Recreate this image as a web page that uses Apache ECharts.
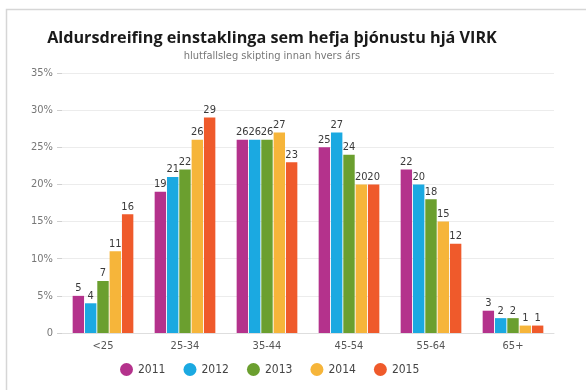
<!DOCTYPE html>
<html>
<head>
<meta charset="utf-8">
<script src="https://cdn.jsdelivr.net/npm/echarts@6/dist/echarts.min.js"></script>
<style>
  html, body { margin: 0; padding: 0; background: #fff; }
  #chart { width: 586px; height: 390px; }
</style>
</head>
<body>
<div id="chart"></div>
<script>
// Age groups of people starting services at VIRK, share per year (%)
const ageGroups = ['<25', '25-34', '35-44', '45-54', '55-64', '65+'];
const years = ['2011', '2012', '2013', '2014', '2015'];
const share2011 = [5, 19, 26, 25, 22, 3];
const share2012 = [4, 21, 26, 27, 20, 2];
const share2013 = [7, 22, 26, 24, 18, 2];
const share2014 = [11, 26, 27, 20, 15, 1];
const share2015 = [16, 29, 23, 20, 12, 1];
const yTicks = [0, 5, 10, 15, 20, 25, 30, 35];

const yearValues = [share2011, share2012, share2013, share2014, share2015];
const colors = ['#b4328c', '#1ba9e1', '#6b9f2f', '#f6b53a', '#ef5a2b'];
const labelFont = '"DejaVu Sans Condensed", "Liberation Sans Narrow", sans-serif';

const chart = echarts.init(document.getElementById('chart'));
chart.setOption({
  animation: false,
  backgroundColor: '#fff',
  color: colors,
  graphic: [{
    type: 'rect',
    shape: { x: 6.5, y: 9.5, width: 590, height: 400 },
    style: { fill: 'none', stroke: '#d6d6d6', lineWidth: 1.5 },
    silent: true
  }],
  title: {
    text: 'Aldursdreifing einstaklinga sem hefja þjónustu hjá VIRK',
    subtext: 'hlutfallsleg skipting innan hvers árs',
    left: 267, top: 25, textAlign: 'center',
    itemGap: 5,
    textStyle: { fontFamily: '"Open Sans", sans-serif', fontWeight: 'bold', fontSize: 16.2, color: '#1a1a1a' },
    subtextStyle: { fontFamily: labelFont, fontSize: 11, color: '#777' }
  },
  legend: {
    data: years,
    bottom: 9, left: 115,
    icon: 'circle', itemWidth: 13, itemHeight: 13, itemGap: 18,
    textStyle: { fontFamily: labelFont, fontSize: 12, color: '#444' }
  },
  grid: { left: 62, right: 32, top: 73, bottom: 57 },
  xAxis: {
    type: 'category',
    data: ageGroups,
    axisLine: { lineStyle: { color: '#dedede' } },
    axisTick: { show: false },
    axisLabel: { fontFamily: labelFont, fontSize: 11, color: '#555', margin: 8 }
  },
  yAxis: {
    type: 'value',
    min: yTicks[0], max: yTicks[yTicks.length - 1], interval: 5,
    axisLine: { show: false },
    axisTick: { show: true, length: 5, lineStyle: { color: '#d0d0d0' } },
    splitLine: { lineStyle: { color: '#ececec' } },
    axisLabel: {
      fontFamily: labelFont, fontSize: 11, color: '#777', margin: 9,
      formatter: v => (v === 0 ? '0' : v + '%')
    }
  },
  series: years.map((y, i) => ({
    name: y,
    type: 'bar',
    data: yearValues[i],
    barGap: '8%',
    barCategoryGap: '26%',
    label: {
      show: true, position: 'top', distance: 2,
      fontFamily: labelFont, fontSize: 11, color: '#3a3a3a'
    }
  }))
});
</script>
</body>
</html>
